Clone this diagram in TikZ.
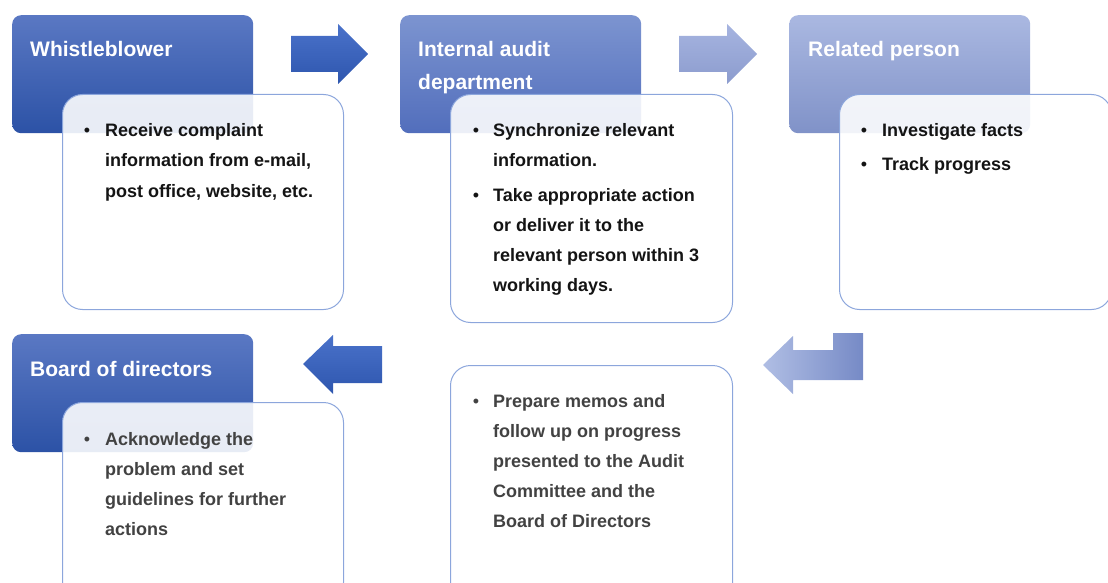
\documentclass[tikz,border=0pt]{standalone}
\usepackage{fontspec}
\setmainfont{Liberation Sans}
\definecolor{hdAtop}{RGB}{90,120,195}
\definecolor{hdAmid}{RGB}{50,96,184}
\definecolor{hdAbot}{RGB}{44,82,166}
\definecolor{hdBtop}{RGB}{124,148,208}
\definecolor{hdBmid}{RGB}{98,128,202}
\definecolor{hdBbot}{RGB}{82,110,188}
\definecolor{hdCtop}{RGB}{170,184,225}
\definecolor{hdCmid}{RGB}{152,170,218}
\definecolor{hdCbot}{RGB}{128,146,200}
\definecolor{arAtop}{RGB}{74,114,202}
\definecolor{arAbot}{RGB}{46,86,174}
\definecolor{arBtop}{RGB}{166,180,224}
\definecolor{arBbot}{RGB}{140,156,206}
\definecolor{arCleft}{RGB}{176,190,228}
\definecolor{arCright}{RGB}{118,138,198}
\definecolor{cardline}{RGB}{140,166,220}
\definecolor{darktext}{RGB}{20,20,20}
\definecolor{greytext}{RGB}{66,66,66}
\begin{document}
\begin{tikzpicture}[x=1pt,y=-1pt,
  header/.style={rounded corners=9pt, inner sep=0, anchor=north west,
    minimum width=241pt, minimum height=118pt},
  hdA/.style={header, top color=hdAtop, middle color=hdAmid, bottom color=hdAbot},
  hdB/.style={header, top color=hdBtop, middle color=hdBmid, bottom color=hdBbot},
  hdC/.style={header, top color=hdCtop, middle color=hdCmid, bottom color=hdCbot},
  card/.style={rounded corners=20pt, draw=cardline, line width=1pt,
    fill=white, fill opacity=0.89, inner sep=0, anchor=north west},
  title/.style={font=\fontsize{21}{33}\selectfont\bfseries, text=white,
    inner sep=0, anchor=base west},
  body/.style={font=\fontsize{18}{30}\selectfont\bfseries, text=darktext,
    inner sep=0, anchor=base west},
  bodygrey/.style={body, text=greytext},
  bul/.style={font=\fontsize{18}{18}\selectfont, inner sep=0, anchor=base},
]
\useasboundingbox (0,0) rectangle (1108,583);

% header tiles
\node[hdA] (h1) at (12,15) {};
\node[hdB] (h2) at (400,15) {};
\node[hdC] (h3) at (789,15) {};
\node[hdA] (h4) at (12,334) {};

% detail cards laid over the tiles
\node[card, minimum width=281pt, minimum height=215pt] (c1) at (62,94) {};
\node[card, minimum width=282pt, minimum height=228pt] (c2) at (450,94) {};
\node[card, minimum width=272pt, minimum height=215pt] (c3) at (839,94) {};
\node[card, minimum width=281pt, minimum height=200pt] (c4) at (62,402) {};
\node[card, minimum width=282pt, minimum height=240pt] (c5) at (450,365) {};

% tile titles
\node[title] (t1) at (30,57) {Whistleblower};
\node[title] (t2) at (418,57) {\parbox[t]{200pt}{Internal audit\\department}};
\node[title] (t3) at (808,57) {Related person};
\node[title] (t4) at (30,376) {Board of directors};

% card texts
\node[bul, text=darktext] (b1) at (87,137) {•};
\node[body] (x1) at (105,137) {\parbox[t]{260pt}{Receive complaint\\information from e-mail,\\post office, website, etc.}};

\node[bul, text=darktext] (b2) at (476,137) {•};
\node[body] (x2) at (493,137) {\parbox[t]{260pt}{Synchronize relevant\\information.}};
\node[bul, text=darktext] (b3) at (476,201) {•};
\node[body] (x3) at (493,201) {\parbox[t]{260pt}{Take appropriate action\\or deliver it to the\\relevant person within 3\\working days.}};

\node[bul, text=darktext] (b4) at (864,137) {•};
\node[body] (x4) at (882,137) {Investigate facts};
\node[bul, text=darktext] (b5) at (864,171) {•};
\node[body] (x5) at (882,171) {Track progress};

\node[bul, text=greytext] (b6) at (87,445) {•};
\node[bodygrey] (x6) at (105,445) {\parbox[t]{260pt}{Acknowledge the\\problem and set\\guidelines for further\\actions}};

\node[bul, text=greytext] (b7) at (476,407) {•};
\node[bodygrey] (x7) at (493,407) {\parbox[t]{260pt}{Prepare memos and\\follow up on progress\\presented to the Audit\\Committee and the\\Board of Directors}};

% block arrows between the stages
\shade[top color=arAtop, bottom color=arAbot]
  (291,36) -- (338,36) -- (338,24) -- (368,54) -- (338,84) -- (338,72) -- (291,72) -- cycle;
\shade[top color=arBtop, bottom color=arBbot]
  (679,36) -- (727,36) -- (727,24) -- (757,54) -- (727,84) -- (727,72) -- (679,72) -- cycle;
\shade[top color=arAtop, bottom color=arAbot]
  (382,346) -- (333,346) -- (333,335) -- (303,364) -- (333,394) -- (333,383) -- (382,383) -- cycle;
\shade[left color=arCleft, right color=arCright]
  (763,365) -- (793,336) -- (793,350) -- (833,350) -- (833,333) -- (863,333)
  -- (863,380) -- (793,380) -- (793,394) -- cycle;
\end{tikzpicture}
\end{document}
